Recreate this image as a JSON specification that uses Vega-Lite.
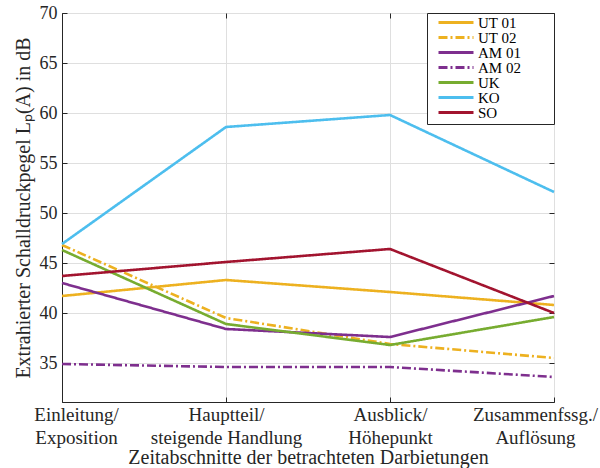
{
  "$schema": "https://vega.github.io/schema/vega-lite/v6.json",
  "width": 492,
  "height": 389,
  "autosize": {"type": "none"},
  "padding": {"left": 62, "top": 13, "right": 46, "bottom": 66},
  "background": "white",
  "config": {
    "font": "Liberation Serif",
    "view": {"stroke": "#262626", "strokeWidth": 1},
    "axis": {
      "labelFont": "Liberation Serif",
      "titleFont": "Liberation Serif",
      "labelColor": "#262626",
      "titleColor": "#262626",
      "domainColor": "#262626",
      "tickColor": "#262626",
      "gridColor": "#dfdfdf",
      "gridWidth": 1,
      "titleFontWeight": "normal"
    }
  },
  "data": {
    "values": [
      {"phase": "Einleitung/|Exposition", "series": "UT 01", "value": 41.7},
      {"phase": "Hauptteil/|steigende Handlung", "series": "UT 01", "value": 43.3},
      {"phase": "Ausblick/|Höhepunkt", "series": "UT 01", "value": 42.1},
      {"phase": "Zusammenfssg./|Auflösung", "series": "UT 01", "value": 40.8},
      {"phase": "Einleitung/|Exposition", "series": "UT 02", "value": 46.8},
      {"phase": "Hauptteil/|steigende Handlung", "series": "UT 02", "value": 39.5},
      {"phase": "Ausblick/|Höhepunkt", "series": "UT 02", "value": 36.9},
      {"phase": "Zusammenfssg./|Auflösung", "series": "UT 02", "value": 35.5},
      {"phase": "Einleitung/|Exposition", "series": "AM 01", "value": 43.0},
      {"phase": "Hauptteil/|steigende Handlung", "series": "AM 01", "value": 38.4},
      {"phase": "Ausblick/|Höhepunkt", "series": "AM 01", "value": 37.6},
      {"phase": "Zusammenfssg./|Auflösung", "series": "AM 01", "value": 41.7},
      {"phase": "Einleitung/|Exposition", "series": "AM 02", "value": 34.9},
      {"phase": "Hauptteil/|steigende Handlung", "series": "AM 02", "value": 34.6},
      {"phase": "Ausblick/|Höhepunkt", "series": "AM 02", "value": 34.6},
      {"phase": "Zusammenfssg./|Auflösung", "series": "AM 02", "value": 33.6},
      {"phase": "Einleitung/|Exposition", "series": "UK", "value": 46.3},
      {"phase": "Hauptteil/|steigende Handlung", "series": "UK", "value": 38.9},
      {"phase": "Ausblick/|Höhepunkt", "series": "UK", "value": 36.8},
      {"phase": "Zusammenfssg./|Auflösung", "series": "UK", "value": 39.6},
      {"phase": "Einleitung/|Exposition", "series": "KO", "value": 46.9},
      {"phase": "Hauptteil/|steigende Handlung", "series": "KO", "value": 58.6},
      {"phase": "Ausblick/|Höhepunkt", "series": "KO", "value": 59.8},
      {"phase": "Zusammenfssg./|Auflösung", "series": "KO", "value": 52.1},
      {"phase": "Einleitung/|Exposition", "series": "SO", "value": 43.7},
      {"phase": "Hauptteil/|steigende Handlung", "series": "SO", "value": 45.1},
      {"phase": "Ausblick/|Höhepunkt", "series": "SO", "value": 46.4},
      {"phase": "Zusammenfssg./|Auflösung", "series": "SO", "value": 40.0}
    ]
  },
  "layer": [
    {
      "mark": {"type": "line", "strokeWidth": 2.6},
      "encoding": {
        "x": {
          "field": "phase",
          "type": "ordinal",
          "sort": null,
          "scale": {"type": "point", "padding": 0, "domain": ["Einleitung/|Exposition", "Hauptteil/|steigende Handlung", "Ausblick/|Höhepunkt", "Zusammenfssg./|Auflösung"]},
          "axis": {
            "orient": "bottom",
            "title": "Zeitabschnitte der betrachteten Darbietungen",
            "titleFontSize": 20,
            "titlePadding": 0,
            "labelExpr": "split(datum.label, '|')",
            "labelFontSize": 19,
            "labelLineHeight": 23,
            "labelAngle": 0,
            "labelAlign": "center",
            "labelBaseline": "top",
            "labelPadding": 8,
            "labelOffset": {"condition": [
              {"test": "datum.value === 'Zusammenfssg./|Auflösung'", "value": -19},
              {"test": "datum.value === 'Einleitung/|Exposition'", "value": 14}
            ], "value": 0},
            "labelBound": false,
            "labelOverlap": false,
            "tickSize": -5,
            "grid": true
          }
        },
        "y": {
          "field": "value",
          "type": "quantitative",
          "scale": {"domain": [31.1, 70], "nice": false, "zero": false},
          "axis": {
            "orient": "left",
            "title": "Extrahierter Schalldruckpegel Lₚ(A) in dB",
            "titleFontSize": 20,
            "titlePadding": 6,
            "values": [35, 40, 45, 50, 55, 60, 65, 70],
            "labelFontSize": 18,
            "labelPadding": 10,
            "tickSize": -5,
            "grid": true
          }
        },
        "color": {
          "field": "series",
          "type": "nominal",
          "scale": {
            "domain": ["UT 01", "UT 02", "AM 01", "AM 02", "UK", "KO", "SO"],
            "range": ["#EDB120", "#EDB120", "#7E2F8E", "#7E2F8E", "#77AC30", "#4DBEEE", "#A2142F"]
          },
          "legend": {
            "title": null,
            "orient": "top-right",
            "offset": 0,
            "symbolType": "stroke",
            "symbolSize": 1225,
            "symbolStrokeWidth": 3,
            "symbolOffset": 7,
            "clipHeight": 13,
            "labelFontSize": 15,
            "labelFont": "Liberation Serif",
            "labelColor": "#000000",
            "labelOffset": 3,
            "labelExpr": "datum.label + '\u00a0\u00a0\u00a0\u00a0\u00a0\u00a0\u00a0\u00a0\u200b'",
            "rowPadding": -12,
            "padding": 3,
            "strokeColor": "#262626",
            "fillColor": "white",
            "cornerRadius": 0
          }
        },
        "strokeDash": {
          "field": "series",
          "type": "nominal",
          "scale": {
            "domain": ["UT 01", "UT 02", "AM 01", "AM 02", "UK", "KO", "SO"],
            "range": [[1, 0], [9, 3, 2, 3], [1, 0], [9, 3, 2, 3], [1, 0], [1, 0], [1, 0]]
          },
          "legend": null
        }
      }
    },
    {
      "mark": {"type": "line", "opacity": 0},
      "encoding": {
        "x": {
          "field": "phase",
          "type": "ordinal",
          "sort": null,
          "scale": {"type": "point", "padding": 0, "domain": ["Einleitung/|Exposition", "Hauptteil/|steigende Handlung", "Ausblick/|Höhepunkt", "Zusammenfssg./|Auflösung"]},
          "axis": {"orient": "top", "labels": false, "title": null, "tickSize": -5, "grid": false, "domain": false}
        },
        "y": {
          "field": "value",
          "type": "quantitative",
          "scale": {"domain": [31.1, 70], "nice": false, "zero": false},
          "axis": {"orient": "right", "labels": false, "title": null, "values": [35, 40, 45, 50, 55, 60, 65, 70], "tickSize": -5, "grid": false, "domain": false}
        },
        "detail": {"field": "series"}
      }
    }
  ],
  "resolve": {"axis": {"x": "independent", "y": "independent"}}
}
